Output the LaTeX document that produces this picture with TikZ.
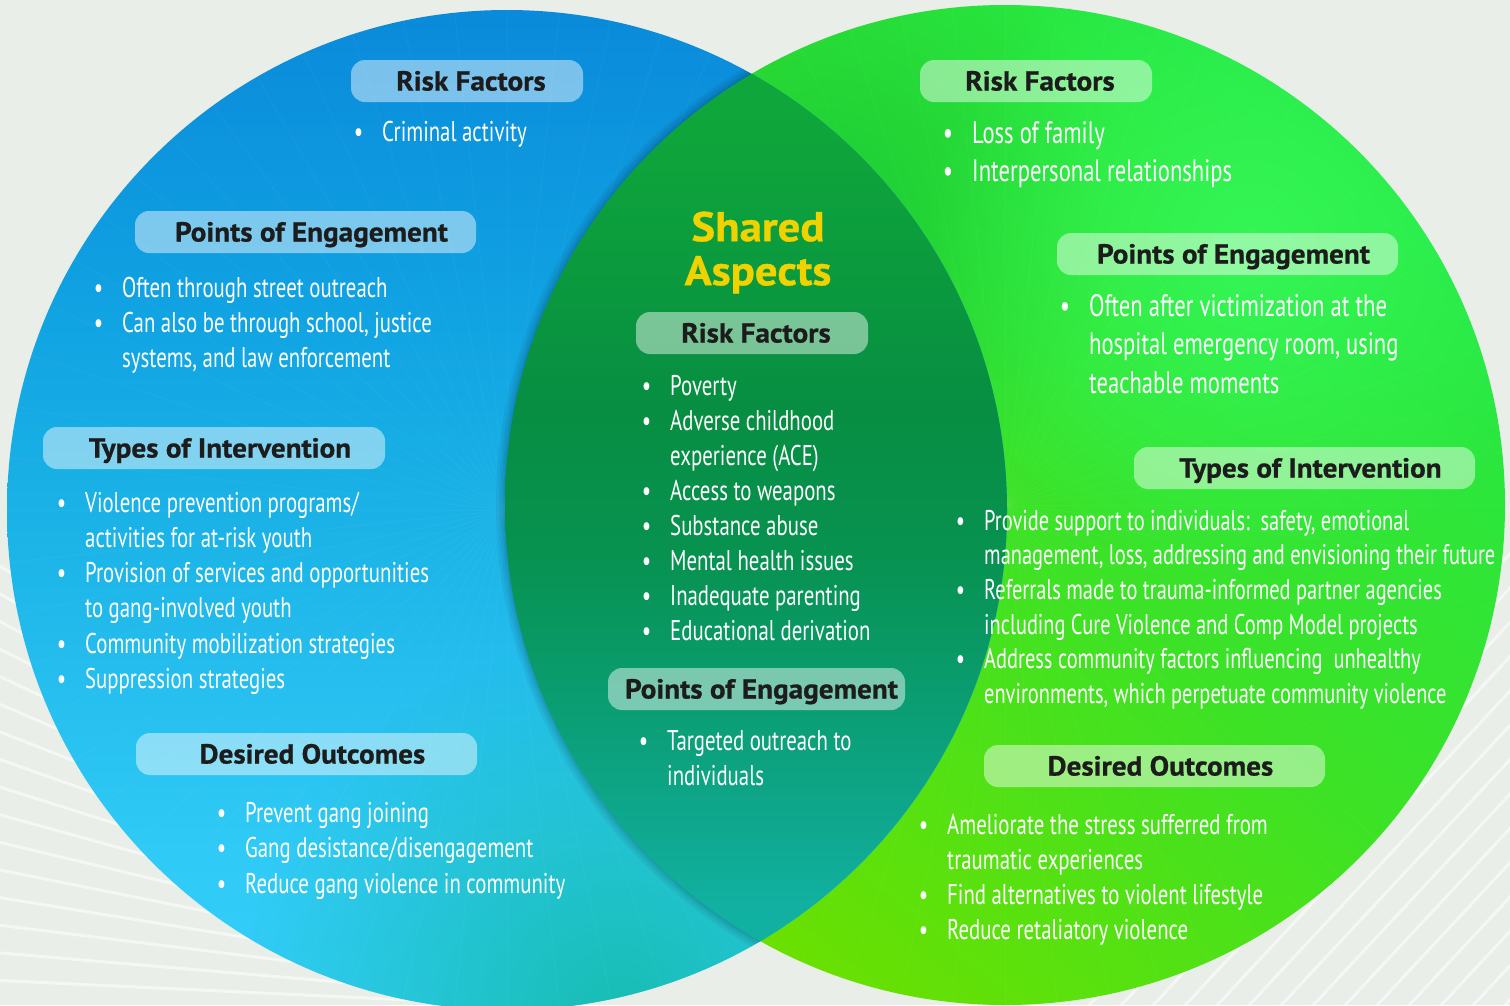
\documentclass[tikz,border=0pt]{standalone}
\usepackage{fontspec}
\setmainfont{PT Sans}
\newfontfamily\bodyfont{PT Sans}[FakeStretch=0.73]
\newfontfamily\bodyfontN{PT Sans}[FakeStretch=0.716]
\newfontfamily\headfont{PT Sans Bold}[FakeStretch=1.06, FakeBold=0.8]
\newfontfamily\titlefont{PT Sans Bold}[FakeStretch=1.08, FakeBold=0.8]
\usetikzlibrary{fadings}
\definecolor{bgc}{HTML}{E9EEE9}
\definecolor{lTeal}{HTML}{17BDB2}
\definecolor{rTop}{HTML}{24E846}
\definecolor{rMid}{HTML}{3CE226}
\definecolor{rBot}{HTML}{6BE000}
\definecolor{rGlow}{HTML}{34F656}
\definecolor{rDark}{HTML}{14C63A}
\definecolor{headc}{HTML}{1C1C1C}
\definecolor{yel}{HTML}{F0D200}
\pgfdeclareverticalshading{leftshade}{100bp}{
  color(0bp)=(rgb,255:red,50;green,206;blue,248);
  color(25bp)=(rgb,255:red,50;green,206;blue,248);
  color(33bp)=(rgb,255:red,48;green,202;blue,246);
  color(50bp)=(rgb,255:red,26;green,178;blue,230);
  color(60.5bp)=(rgb,255:red,16;green,162;blue,226);
  color(75bp)=(rgb,255:red,10;green,138;blue,218);
  color(100bp)=(rgb,255:red,10;green,138;blue,218)}
\pgfdeclareverticalshading{lensshade}{100bp}{
  color(0bp)=(rgb,255:red,18;green,180;blue,166);
  color(25bp)=(rgb,255:red,18;green,180;blue,166);
  color(30bp)=(rgb,255:red,17;green,176;blue,160);
  color(35bp)=(rgb,255:red,14;green,166;blue,138);
  color(41bp)=(rgb,255:red,10;green,156;blue,110);
  color(47.5bp)=(rgb,255:red,7;green,146;blue,80);
  color(55bp)=(rgb,255:red,7;green,142;blue,66);
  color(67.5bp)=(rgb,255:red,14;green,164;blue,59);
  color(75bp)=(rgb,255:red,16;green,170;blue,58);
  color(100bp)=(rgb,255:red,16;green,170;blue,58)}
\tikzfading[name=radfade, inner color=transparent!0, outer color=transparent!100]
\newcommand\bl{\strut\llap{\textbullet\hspace{19pt}}}
\newcommand\cl{\strut}
\newcommand\Blist[6][]{\node[blist=#5,#1] (#2) at (#3,{#4-0.7*#5}) {#6};}
\tikzset{
  pill/.style={rounded corners=14pt, fill=white, fill opacity=0.46, text opacity=1,
    minimum height=42pt, text height=19pt, text depth=0pt, inner xsep=0pt,
    font=\headfont\fontsize{27.5}{30}\selectfont, text=headc},
  blist/.style={font={\bodyfont\fontsize{28.5}{#1}\selectfont}, text=white,
    anchor=north west, inner sep=0pt, align=left},
  bgline/.style={white, opacity=0.55, line width=3pt},
  ray/.style={white, opacity=0.035, line width=1pt}
}
\begin{document}
\begin{tikzpicture}[x=1pt,y=-1pt]
\useasboundingbox (0,0) rectangle (1510,1005);
\fill[bgc] (0,0) rectangle (1510,1005);
\coordinate (L) at (507,510);
\coordinate (R) at (1005,505);
% background stripes
\foreach \y in {560,588,...,1015} \draw[bgline] (-10,\y) -- (430,{\y+0.62*(1015-\y)/455*440});
\foreach \x in {1080,1112,...,1620} \draw[bgline] (\x,1015) -- ({\x+480},500);
% right circle
\shade[top color=rTop, bottom color=rBot, middle color=rMid, shading angle=-40] (R) circle (500);
\begin{scope}
  \clip (R) circle (500);
  \fill[rDark, path fading=radfade, opacity=0.8] (820,220) circle (300);
  \fill[rGlow, path fading=radfade] (1250,250) circle (330);
  \foreach \a in {0,6,...,354} \draw[ray] (R) -- ++(\a:520);
\end{scope}
% left circle
\begin{scope}
  \clip (L) circle (500);
  \shade[shading=leftshade] (L) circle (500);
  \fill[lTeal, path fading=radfade] (620,1020) circle (380);
  \foreach \a in {0,6,...,354} \draw[ray] (L) -- ++(\a:520);
  \foreach \w in {3,7,12,18} \draw[black, opacity=0.05, line width=\w pt] (R) circle (500);
  % lens
  \shade[shading=lensshade] (R) circle (500);
\end{scope}
% ---------- left circle ----------
\node[pill, minimum width=232pt] (lrfh) at (467,81) {\hspace{8pt}Risk Factors};
\Blist{lrf}{382}{141.5}{35}{\bl Criminal activity}
\node[pill, minimum width=341pt] (lpoeh) at (305.5,232) {\hspace{12pt}Points of Engagement};
\Blist{lpoe}{122}{297}{35}{\bl Often through street outreach\\
\bl Can also be through school, justice\\
\cl systems, and law enforcement}
\node[pill, minimum width=342pt] (ltoih) at (214,448) {\hspace{12pt}Types of Intervention};
\Blist{ltoi}{85}{512}{35.2}{\bl Violence prevention programs/\\
\cl activities for at-risk youth\\
\bl Provision of services and opportunities\\
\cl to gang-involved youth\\
\bl Community mobilization strategies\\
\bl Suppression strategies}
\node[pill, minimum width=341pt] (ldoh) at (306.5,754) {\hspace{12pt}Desired Outcomes};
\Blist{ldo}{245}{822}{35.5}{\bl Prevent gang joining\\
\bl Gang desistance/disengagement\\
\bl Reduce gang violence in community}
% ---------- shared ----------
\node[font=\titlefont\fontsize{41.5}{44}\selectfont, text=yel, align=center, inner sep=0pt, anchor=north]
  (shared) at (758,{241-0.7*44}) {\strut Shared\\\strut Aspects};
\node[pill, minimum width=232pt] (mrfh) at (752,333) {\hspace{8pt}Risk Factors};
\Blist{mrf}{670}{395}{35.1}{\bl Poverty\\
\bl Adverse childhood\\
\cl experience (ACE)\\
\bl Access to weapons\\
\bl Substance abuse\\
\bl Mental health issues\\
\bl Inadequate parenting\\
\bl Educational derivation}
\node[pill, minimum width=297pt] (mpoeh) at (756.5,689) {\hspace{10pt}Points of Engagement};
\Blist{mpoe}{667}{750}{35}{\bl Targeted outreach to\\
\cl individuals}
% ---------- right circle ----------
\node[pill, minimum width=232pt] (rrfh) at (1036,81) {\hspace{8pt}Risk Factors};
\Blist[font={\bodyfont\fontsize{31}{38}\selectfont}]{rrf}{972}{143}{38}{\bl Loss of family\\
\bl Interpersonal relationships}
\node[pill, minimum width=341pt] (rpoeh) at (1227.5,254) {\hspace{12pt}Points of Engagement};
\Blist[font={\bodyfont\fontsize{31}{38.5}\selectfont}]{rpoe}{1089}{316}{38.5}{\bl Often after victimization at the\\
\cl hospital emergency room, using\\
\cl teachable moments}
\node[pill, minimum width=341pt] (rtoih) at (1304.5,468) {\hspace{12pt}Types of Intervention};
\Blist[font={\bodyfontN\fontsize{28.5}{34.6}\selectfont}]{rtoi}{984}{530}{34.6}{\bl Provide support to individuals:\ \ safety, emotional\\
\cl management, loss, addressing and envisioning their future\\
\bl Referrals made to trauma-informed partner agencies\\
\cl including Cure Violence and Comp Model projects\\
\bl Address community factors influencing\ \ unhealthy\\
\cl environments, which perpetuate community violence}
\node[pill, minimum width=341pt] (rdoh) at (1154.5,766) {\hspace{12pt}Desired Outcomes};
\Blist{rdo}{947}{834}{35}{\bl Ameliorate the stress sufferred from\\
\cl traumatic experiences\\
\bl Find alternatives to violent lifestyle\\
\bl Reduce retaliatory violence}
\end{tikzpicture}
\end{document}
